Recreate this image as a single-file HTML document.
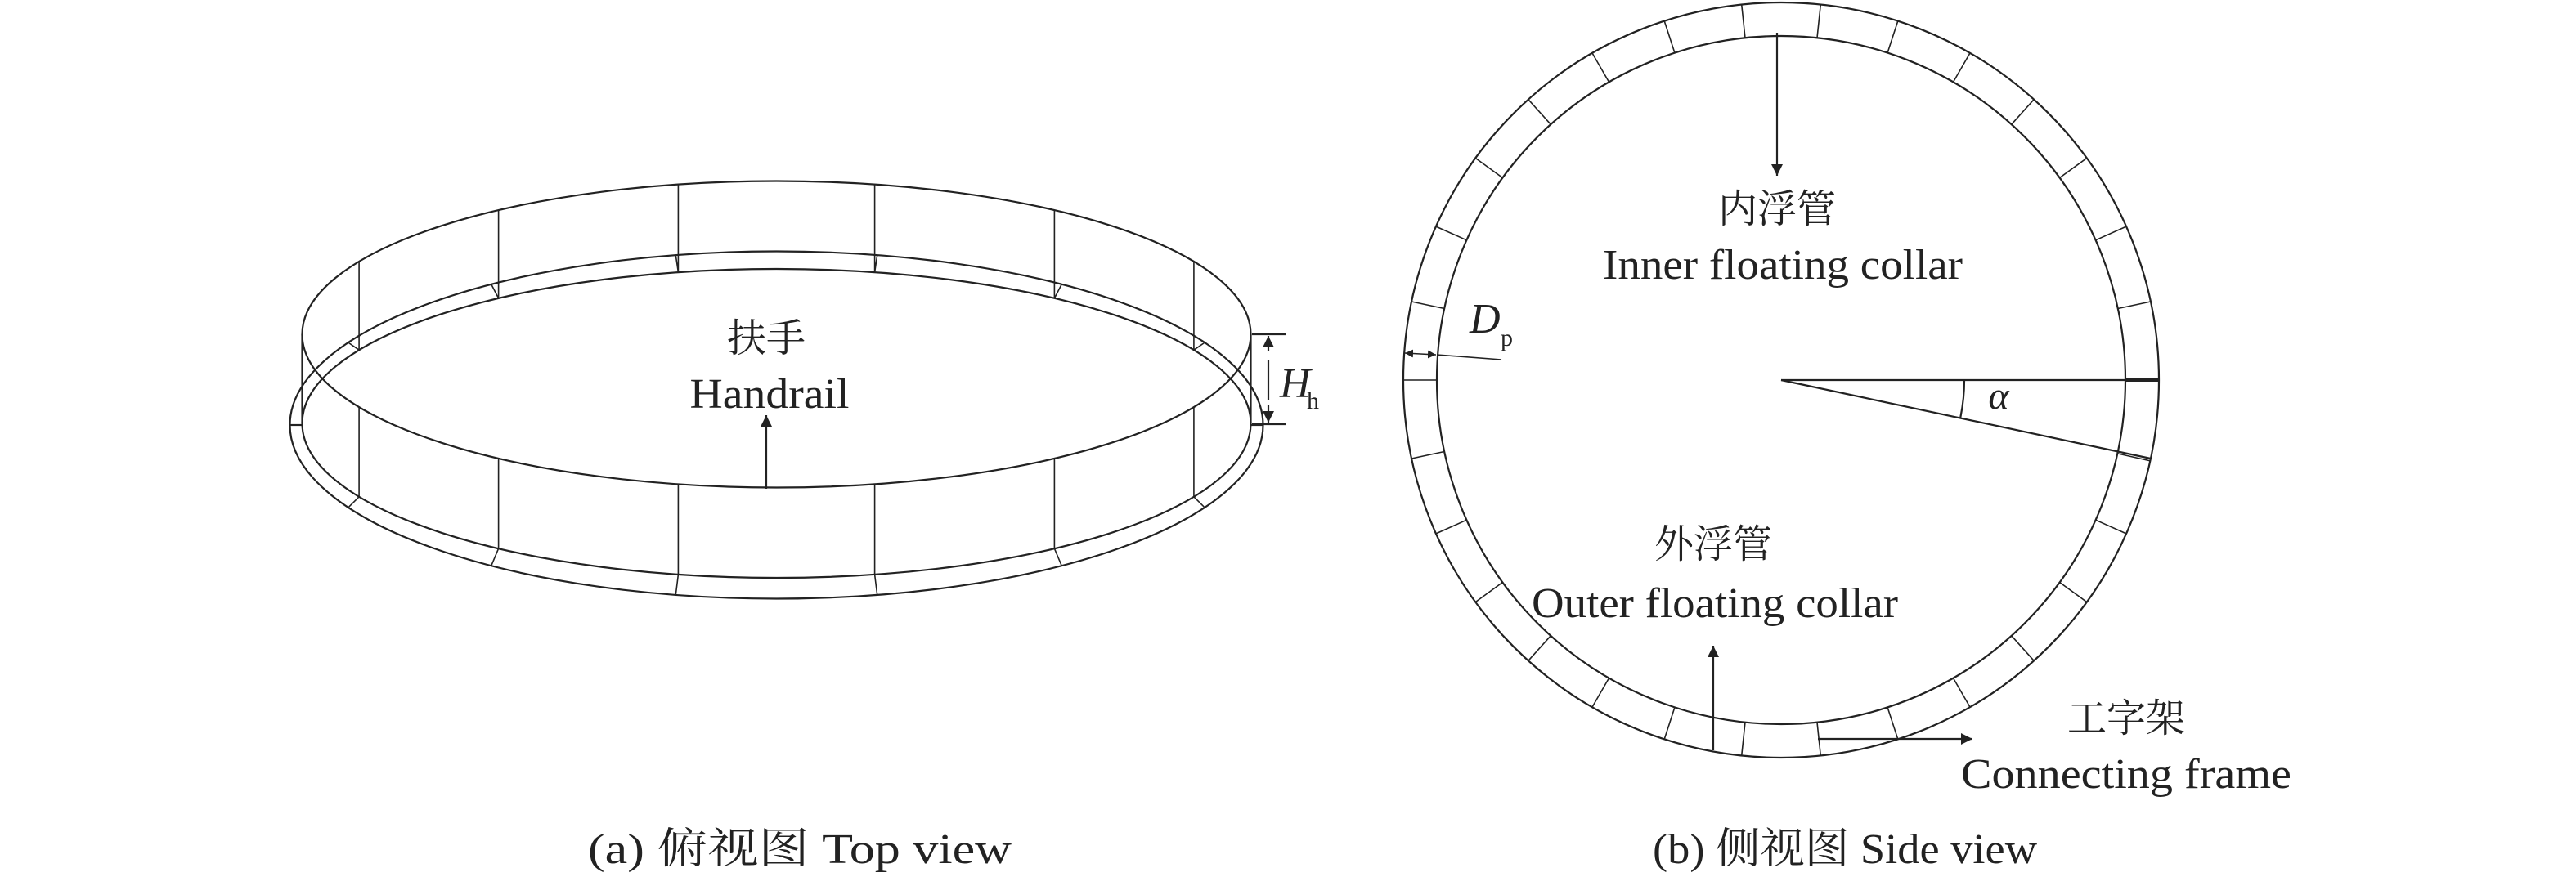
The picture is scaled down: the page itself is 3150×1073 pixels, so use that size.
<!DOCTYPE html>
<html><head><meta charset="utf-8"><style>html,body{margin:0;padding:0;background:#fff}svg{display:block}</style></head>
<body>
<svg width="3150" height="1073" viewBox="0 0 3150 1073" xmlns="http://www.w3.org/2000/svg">
<defs>
<marker id="ar" viewBox="0 0 10 10" refX="10" refY="5" markerWidth="10" markerHeight="10" markerUnits="userSpaceOnUse" orient="auto"><path d="M0,0 L10,5 L0,10 z" fill="#222"/></marker>
<marker id="big" viewBox="0 0 10 10" refX="10" refY="5" markerWidth="34" markerHeight="14" markerUnits="userSpaceOnUse" orient="auto"><path d="M0,0 L10,5 L0,10 z" fill="#222"/></marker>
<g id="q">
<path d="M411.8,87.5L451.9,96M384.6,171.2L422,187.9M340.6,247.5L373.8,271.6M281.7,312.8L309.1,343.3M210.5,364.6L231,400.1M130.1,400.4L142.8,439.4M44,418.7L48.3,459.5"/>
</g>
<g id="ph">
<path d="M510.4,319.9L510.4,428.2L523.6,419.1M510.4,498.1L510.4,607.8L523.6,620.9M339.9,257.1L339.9,364.9L348.7,347.9M339.9,560.9L339.9,671.1L348.7,692.1M120.1,225.6L120.1,333.2L123.2,312.2M120.1,592.4L120.1,702.8L123.2,727.8"/>
</g>
</defs>
<g fill="none" stroke="#222" stroke-width="2.2">
<ellipse cx="949.5" cy="409" rx="580" ry="187.5"/>
<ellipse cx="949.5" cy="518" rx="580" ry="189"/>
<ellipse cx="949.5" cy="520" rx="595" ry="212.5"/>
<line x1="369.5" y1="409" x2="369.5" y2="518"/>
<line x1="1529.5" y1="409" x2="1529.5" y2="518"/>
<line x1="354.5" y1="520" x2="369.5" y2="520"/>
<line x1="1529.5" y1="520" x2="1544.5" y2="520"/>
<g stroke-width="1.6">
<use href="#ph" transform="translate(949.5,0)"/>
<use href="#ph" transform="translate(949.5,0) scale(-1,1)"/>
</g>
<line x1="1531" y1="409" x2="1572" y2="409"/>
<line x1="1531" y1="519" x2="1572" y2="519"/>
<line x1="1551" y1="440" x2="1551" y2="490"/>
<line x1="1551" y1="430" x2="1551" y2="411" marker-end="url(#big)"/>
<line x1="1551" y1="495" x2="1551" y2="517" marker-end="url(#big)"/>
<line x1="937" y1="598" x2="937" y2="508" marker-end="url(#big)"/>
<circle cx="2178" cy="465" r="462"/>
<circle cx="2178" cy="465" r="421"/>
<g stroke-width="1.6">
<use href="#q" transform="translate(2178,465)"/>
<use href="#q" transform="translate(2178,465) scale(-1,1)"/>
<use href="#q" transform="translate(2178,465) scale(1,-1)"/>
<use href="#q" transform="translate(2178,465) scale(-1,-1)"/>
<line x1="1716" y1="465" x2="1757" y2="465"/>
</g>
<line x1="2178" y1="465" x2="2640" y2="465"/>
<line x1="2600" y1="465" x2="2640" y2="465" stroke-width="4"/>
<line x1="2178" y1="465" x2="2630" y2="561"/>
<line x1="2590" y1="555" x2="2630" y2="564" stroke-width="1.6"/>
<path d="M2402,465 A224,224 0 0 1 2397,512"/>
<line x1="2173" y1="40" x2="2173" y2="215" marker-end="url(#big)"/>
<line x1="2095" y1="918" x2="2095" y2="790" marker-end="url(#big)"/>
<line x1="2223" y1="904" x2="2412" y2="904" marker-end="url(#big)"/>
<line x1="1757" y1="434" x2="1836" y2="440" stroke-width="1.6"/>
<line x1="1737" y1="433" x2="1718" y2="432" stroke-width="1.4" marker-end="url(#ar)"/>
<line x1="1737" y1="433" x2="1756" y2="434" stroke-width="1.4" marker-end="url(#ar)"/>
</g>
<g font-family="'Liberation Serif','Noto Serif CJK SC',serif" fill="#222" font-size="52" text-anchor="middle">
<text x="937" y="430" font-size="48">扶手</text>
<text x="941" y="499" textLength="195" lengthAdjust="spacingAndGlyphs">Handrail</text>
<text x="1565" y="486" font-style="italic" text-anchor="start">H</text>
<text x="1598" y="500" font-size="30" text-anchor="start">h</text>
<text x="2173" y="272" font-size="48">内浮管</text>
<text x="2180" y="341" textLength="440" lengthAdjust="spacingAndGlyphs">Inner floating collar</text>
<text x="1797" y="407" font-style="italic" text-anchor="start">D</text>
<text x="1835" y="423" font-size="30" text-anchor="start">p</text>
<text x="2444" y="500" font-style="italic" font-size="48">α</text>
<text x="2095" y="682" font-size="48">外浮管</text>
<text x="2097" y="755" textLength="448" lengthAdjust="spacingAndGlyphs">Outer floating collar</text>
<text x="2600" y="895" font-size="48">工字架</text>
<text x="2600" y="964" textLength="404" lengthAdjust="spacingAndGlyphs">Connecting frame</text>
<text x="978" y="1056" textLength="518" lengthAdjust="spacingAndGlyphs">(a) 俯视图 Top view</text>
<text x="2256" y="1056" textLength="470" lengthAdjust="spacingAndGlyphs">(b) 侧视图 Side view</text>
</g>
</svg>
</body></html>
